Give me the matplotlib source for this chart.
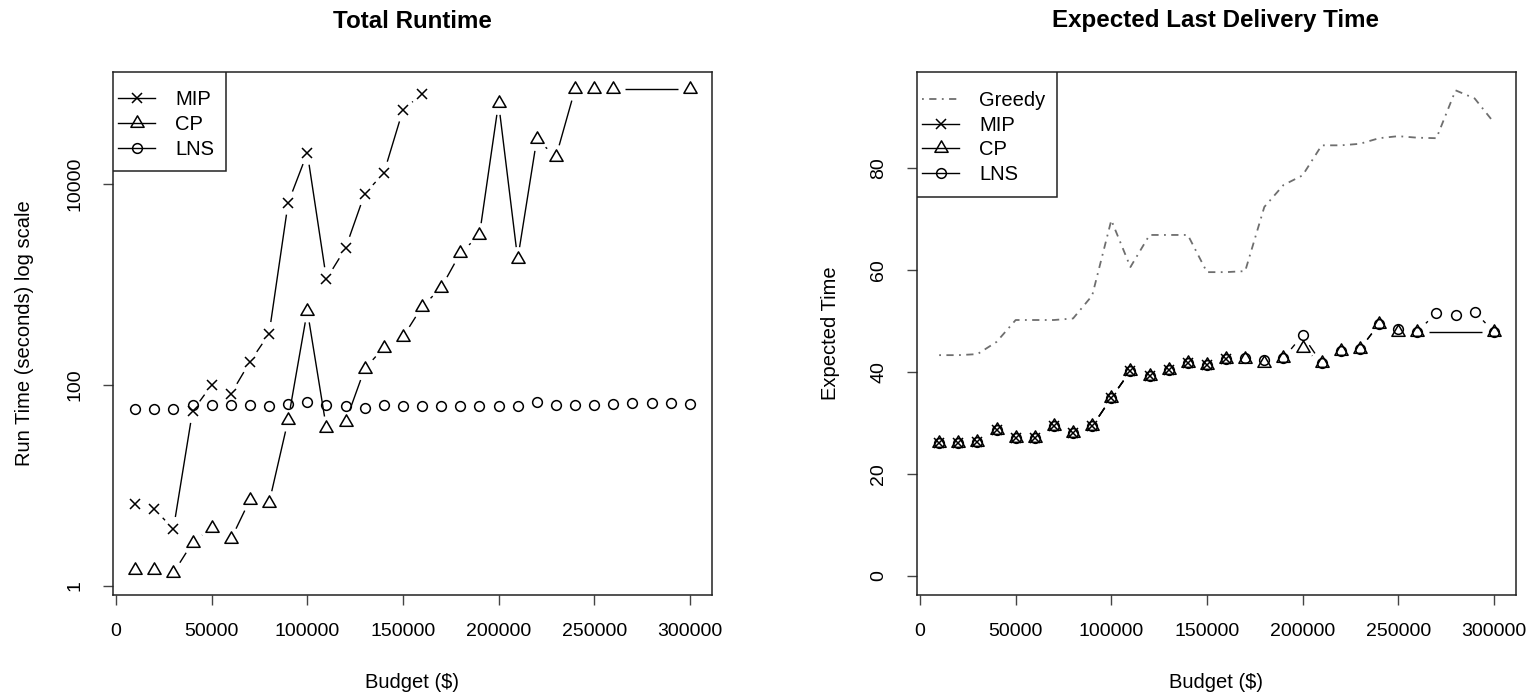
import numpy as np
import matplotlib
matplotlib.use("Agg")
import matplotlib.pyplot as plt
from matplotlib.collections import LineCollection
from matplotlib.lines import Line2D
from matplotlib.path import Path
from matplotlib.patches import Rectangle

plt.rcParams['font.family'] = ['Liberation Sans', 'DejaVu Sans']

# ---------------- data ----------------
budget = [10000 * i for i in range(1, 31)]
budget_mip = [10000 * i for i in range(1, 17)]
budget_cp = [10000 * i for i in range(1, 27)] + [300000]

# Total runtime (seconds)
rt_mip = [6.5, 5.8, 3.7, 55, 100, 81, 170, 322, 6500, 20400, 1130, 2300,
          8000, 12800, 54500, 79000]
rt_cp = [1.44, 1.44, 1.35, 2.7, 3.8, 2.9, 7.2, 6.7, 45, 550, 37, 43, 145,
         235, 300, 600, 930, 2050, 3100, 64000, 1790, 28000, 18600, 88000,
         88000, 88000, 88000]
rt_lns = [57.7, 57.7, 57.7, 63, 63, 63, 63, 62, 65, 67.5, 63, 62, 59.5, 63,
          62.2, 62.2, 62.2, 62.2, 62.2, 62.2, 62.2, 68, 63, 63, 63, 64.3,
          65.8, 65.8, 65.8, 64.3]

# Expected last delivery time
ex_greedy = [43.3, 43.3, 43.5, 45.9, 50.2, 50.2, 50.2, 50.5, 55, 69.8, 60.6,
             66.9, 66.9, 66.9, 59.6, 59.6, 59.8, 72.4, 76.7, 78.6, 84.5, 84.5,
             84.8, 85.9, 86.3, 86.0, 85.9, 95.3, 93.7, 89.0]
ex_mip = [26.1, 26.1, 26.3, 28.6, 27.0, 27.0, 29.4, 28.1, 29.3, 34.9, 40.2,
          39.2, 40.4, 41.8, 41.3, 42.5]
ex_cp = [26.1, 26.1, 26.3, 28.6, 27.0, 27.0, 29.4, 28.1, 29.3, 34.9, 40.2,
         39.2, 40.4, 41.8, 41.3, 42.5, 42.5, 41.8, 42.7, 44.7, 41.7, 44.1,
         44.5, 49.4, 47.9, 47.9, 47.9]
ex_lns = [26.1, 26.1, 26.3, 28.6, 27.0, 27.0, 29.4, 28.1, 29.3, 34.9, 40.2,
          39.2, 40.4, 41.8, 41.3, 42.5, 42.7, 42.3, 42.7, 47.2, 41.7, 44.1,
          44.5, 49.4, 48.5, 47.9, 51.6, 51.2, 51.8, 47.9]

x_ticks = [0, 50000, 100000, 150000, 200000, 250000, 300000]
x_ticklabels = ['0', '50000', '100000', '150000', '200000', '250000', '300000']
rt_ticks = [1, 100, 10000]
rt_ticklabels = ['1', '100', '10000']
ex_ticks = [0, 20, 40, 60, 80]
ex_ticklabels = ['0', '20', '40', '60', '80']

# ---------------- figure ----------------
W, H = 1532, 699
DPI = 100
fig = plt.figure(figsize=(W / DPI, H / DPI), dpi=DPI)

def px_axes(l, t, r, b):
    return fig.add_axes([l / W, 1 - b / H, (r - l) / W, (b - t) / H])

axL = px_axes(113, 72, 712, 595)
axR = px_axes(917, 72, 1516, 595)

TICK_FS = 14
LAB_FS = 14.5
LEG_FS = 14.5
TITLE_FS = 17.4
LW = 1.0
GAP = 12  # px gap around points (R type="b")
FRAME_C = '#222222'

tri = Path([(0, 1.155), (-1, -0.577), (1, -0.577), (0, 1.155)],
           [Path.MOVETO, Path.LINETO, Path.LINETO, Path.CLOSEPOLY])

def style_axes(ax):
    for s in ax.spines.values():
        s.set_linewidth(1.1)
        s.set_color(FRAME_C)
    ax.tick_params(direction='out', length=7.5, width=1.0, color='#444444',
                   labelsize=TICK_FS)
    ax.tick_params(axis='x', pad=13)
    ax.tick_params(axis='y', pad=14)
    ax.minorticks_off()

def type_b(ax, x, y, marker, ms, color='black', z=3, gap=GAP):
    T = ax.transData
    pts = T.transform(np.column_stack([x, y]))
    inv = T.inverted()
    segs = []
    for p0, p1 in zip(pts[:-1], pts[1:]):
        d = p1 - p0
        L = np.hypot(*d)
        if L > 2 * gap:
            u = d / L
            segs.append(inv.transform(np.array([p0 + u * gap, p1 - u * gap])))
    ax.add_collection(LineCollection(segs, colors=color, linewidths=LW,
                                     zorder=z, capstyle='butt'))
    ax.plot(x, y, linestyle='none', marker=marker, ms=ms, mfc='none',
            mec=color, mew=1.1, zorder=z + 1)

def leg_handle(marker, ms):
    return Line2D([], [], color='black', lw=LW, marker=marker, ms=ms,
                  mfc='none', mew=1.1)

def r_legend(ax, handles, labels, box_px, first_top_px, spacing):
    """R-like legend: frame box (pixels) + frameless legend entries."""
    l, t, r, b = box_px
    ax.add_patch(Rectangle((l / W, 1 - b / H), (r - l) / W, (b - t) / H,
                           transform=fig.transFigure, fill=True, fc='white',
                           ec=FRAME_C, lw=1.1, zorder=10))
    leg = ax.legend(handles, labels, loc='upper left',
                    bbox_to_anchor=((l + 5) / W, 1 - first_top_px / H),
                    bbox_transform=fig.transFigure, borderaxespad=0,
                    borderpad=0, fontsize=LEG_FS, frameon=False,
                    handlelength=1.85, handletextpad=1.0,
                    labelspacing=spacing)
    leg.set_zorder(11)
    return leg

# ---------- left: Total Runtime ----------
axL.set_xlim(-1600, 311600)
axL.set_yscale('log')
axL.set_ylim(10 ** -0.09, 10 ** 5.114)
axL.set_xticks(x_ticks)
axL.set_xticklabels(x_ticklabels)
axL.set_yticks(rt_ticks)
axL.set_yticklabels(rt_ticklabels)
style_axes(axL)

type_b(axL, budget_mip, rt_mip, 'x', 7.5)
type_b(axL, budget_cp, rt_cp, tri, 11)
type_b(axL, budget, rt_lns, 'o', 7)

r_legend(axL, [leg_handle('x', 7.5), leg_handle(tri, 11), leg_handle('o', 7)],
         ['MIP', 'CP', 'LNS'], (113, 72, 226, 171), 90, 0.3)

# ---------- right: Expected Last Delivery Time ----------
axR.set_xlim(-1600, 311600)
axR.set_ylim(-3.8, 98.9)
axR.set_xticks(x_ticks)
axR.set_xticklabels(x_ticklabels)
axR.set_yticks(ex_ticks)
axR.set_yticklabels(ex_ticklabels)
style_axes(axR)

axR.plot(budget, ex_greedy, color='#6e6e6e', lw=1.3, dashes=(1, 3, 4, 3), zorder=2)
type_b(axR, budget_mip, ex_mip, 'x', 7.5)
type_b(axR, budget_cp, ex_cp, tri, 11)
type_b(axR, budget, ex_lns, 'o', 7)

r_legend(axR, [Line2D([], [], color='#6e6e6e', lw=1.3, dashes=(1, 3, 4, 3)),
               leg_handle('x', 7.5), leg_handle(tri, 11), leg_handle('o', 7)],
         ['Greedy', 'MIP', 'CP', 'LNS'], (917, 72, 1057, 197), 91, 0.28)

for ax in (axL, axR):
    for lab in ax.get_yticklabels():
        lab.set_rotation(90)
        lab.set_va('center')
        lab.set_ha('right')

# ---------- titles / labels ----------
fig.text(412 / W, 1 - 21 / H, 'Total Runtime', ha='center', va='center',
         fontsize=TITLE_FS, fontweight='bold')
fig.text(1216 / W, 1 - 21 / H, 'Expected Last Delivery Time', ha='center',
         va='center', fontsize=TITLE_FS, fontweight='bold')
fig.text(412 / W, 1 - 682 / H, 'Budget ($)', ha='center', va='center', fontsize=LAB_FS)
fig.text(1216 / W, 1 - 682 / H, 'Budget ($)', ha='center', va='center', fontsize=LAB_FS)
fig.text(25 / W, 1 - 333 / H, 'Run Time (seconds) log scale', ha='center',
         va='center', rotation=90, fontsize=LAB_FS)
fig.text(830 / W, 1 - 333 / H, 'Expected Time', ha='center', va='center',
         rotation=90, fontsize=LAB_FS)

fig.savefig('out.png', dpi=DPI)
